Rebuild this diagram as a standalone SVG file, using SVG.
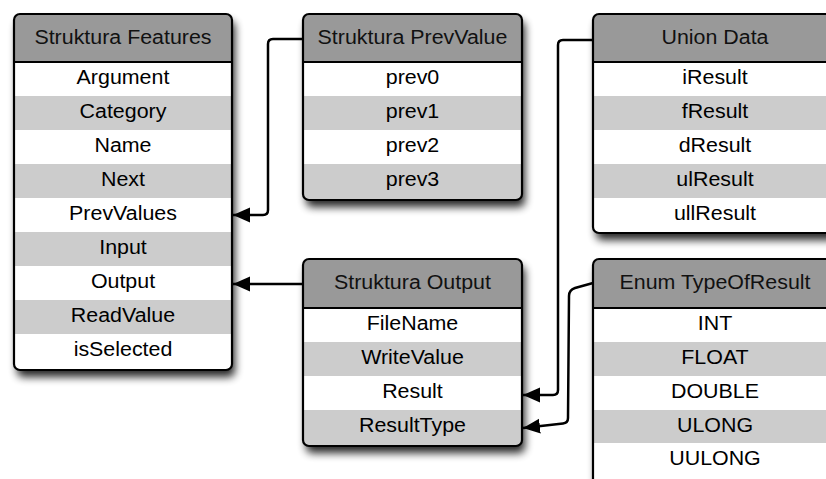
<svg xmlns="http://www.w3.org/2000/svg" width="826" height="479" viewBox="0 0 826 479">
<style>
.box{fill:#fff}
.hdr{fill:#999}
.alt{fill:#ccc}
.brd{fill:none;stroke:#000;stroke-width:2.2}
.sep{stroke:#000;stroke-width:2}
text{font-family:"Liberation Sans",Arial,sans-serif;font-size:20px;text-anchor:middle;fill:#000;transform-box:fill-box;transform-origin:center;transform:scaleX(1.07)}
text.h{fill:#111}
.con{fill:none;stroke:#000;stroke-width:2.5;stroke-linejoin:round}
</style>
<defs>
<filter id="sh" x="-10%" y="-10%" width="130%" height="130%">
<feGaussianBlur in="SourceAlpha" stdDeviation="4"/>
<feOffset dx="3" dy="7" result="b"/>
<feComponentTransfer><feFuncA type="linear" slope="0.85"/></feComponentTransfer>
<feMerge><feMergeNode/><feMergeNode in="SourceGraphic"/></feMerge>
</filter>
<marker id="arr" markerUnits="userSpaceOnUse" markerWidth="20" markerHeight="16" refX="17" refY="7.5" orient="auto">
<path d="M0,0 L17,7.5 L0,15 Z" fill="#000"/>
</marker>
<clipPath id="c1"><rect x="14" y="14" width="218" height="356" rx="6"/></clipPath>
<clipPath id="c2"><rect x="303" y="14" width="219" height="186" rx="6"/></clipPath>
<clipPath id="c3"><rect x="593" y="14" width="244" height="219" rx="6"/></clipPath>
<clipPath id="c4"><rect x="303" y="259" width="219" height="187" rx="6"/></clipPath>
<clipPath id="c5"><rect x="593" y="259" width="244" height="240" rx="6"/></clipPath>
</defs>

<g id="connectors">
<path class="con" d="M303,39 L273,39 Q268,39 268,44 L268,210 Q268,215 263,215 L233,215" marker-end="url(#arr)"/>
<path class="con" d="M303,284 L233,284" marker-end="url(#arr)"/>
<path class="con" d="M593,40 L563,40 Q558,40 558,45 L558,390 Q558,395 553,395 L523,395" marker-end="url(#arr)"/>
<path class="con" d="M593,283 L575,288 Q569,290 569,296 L568,418 Q568,423 563,423.5 L523,428" marker-end="url(#arr)"/>
</g>

<g id="features">
<rect class="box" x="14" y="14" width="218" height="356" rx="6" filter="url(#sh)"/>
<g clip-path="url(#c1)">
<rect class="hdr" x="14" y="14" width="218" height="48"/>
<rect class="alt" x="14" y="96" width="218" height="34"/>
<rect class="alt" x="14" y="164" width="218" height="34"/>
<rect class="alt" x="14" y="232" width="218" height="34"/>
<rect class="alt" x="14" y="300" width="218" height="34"/>
</g>
<line class="sep" x1="14" y1="62" x2="232" y2="62"/>
<rect class="brd" x="14" y="14" width="218" height="356" rx="6"/>
<text class="h" x="123" y="44">Struktura Features</text>
<text x="123" y="84">Argument</text>
<text x="123" y="118">Category</text>
<text x="123" y="152">Name</text>
<text x="123" y="186">Next</text>
<text x="123" y="220">PrevValues</text>
<text x="123" y="254">Input</text>
<text x="123" y="288">Output</text>
<text x="123" y="322">ReadValue</text>
<text x="123" y="356">isSelected</text>
</g>

<g id="prevvalue">
<rect class="box" x="303" y="14" width="219" height="186" rx="6" filter="url(#sh)"/>
<g clip-path="url(#c2)">
<rect class="hdr" x="303" y="14" width="219" height="48"/>
<rect class="alt" x="303" y="96" width="219" height="34"/>
<rect class="alt" x="303" y="164" width="219" height="36"/>
</g>
<line class="sep" x1="303" y1="62" x2="522" y2="62"/>
<rect class="brd" x="303" y="14" width="219" height="186" rx="6"/>
<text class="h" x="412.5" y="44">Struktura PrevValue</text>
<text x="412.5" y="84">prev0</text>
<text x="412.5" y="118">prev1</text>
<text x="412.5" y="152">prev2</text>
<text x="412.5" y="186">prev3</text>
</g>

<g id="uniondata">
<rect class="box" x="593" y="14" width="244" height="219" rx="6" filter="url(#sh)"/>
<g clip-path="url(#c3)">
<rect class="hdr" x="593" y="14" width="244" height="48"/>
<rect class="alt" x="593" y="96" width="244" height="34"/>
<rect class="alt" x="593" y="164" width="244" height="34"/>
</g>
<line class="sep" x1="593" y1="62" x2="837" y2="62"/>
<rect class="brd" x="593" y="14" width="244" height="219" rx="6"/>
<text class="h" x="715" y="44">Union Data</text>
<text x="715" y="84">iResult</text>
<text x="715" y="118">fResult</text>
<text x="715" y="152">dResult</text>
<text x="715" y="186">ulResult</text>
<text x="715" y="220">ullResult</text>
</g>

<g id="output">
<rect class="box" x="303" y="259" width="219" height="187" rx="6" filter="url(#sh)"/>
<g clip-path="url(#c4)">
<rect class="hdr" x="303" y="259" width="219" height="49"/>
<rect class="alt" x="303" y="342" width="219" height="34"/>
<rect class="alt" x="303" y="410" width="219" height="36"/>
</g>
<line class="sep" x1="303" y1="308" x2="522" y2="308"/>
<rect class="brd" x="303" y="259" width="219" height="187" rx="6"/>
<text class="h" x="412.5" y="289">Struktura Output</text>
<text x="412.5" y="330">FileName</text>
<text x="412.5" y="364">WriteValue</text>
<text x="412.5" y="398">Result</text>
<text x="412.5" y="432">ResultType</text>
</g>

<g id="typeofresult">
<rect class="box" x="593" y="259" width="244" height="240" rx="6" filter="url(#sh)"/>
<g clip-path="url(#c5)">
<rect class="hdr" x="593" y="259" width="244" height="49"/>
<rect class="alt" x="593" y="342" width="244" height="34"/>
<rect class="alt" x="593" y="410" width="244" height="33"/>
</g>
<line class="sep" x1="593" y1="308" x2="837" y2="308"/>
<rect class="brd" x="593" y="259" width="244" height="240" rx="6"/>
<text class="h" x="715" y="289">Enum TypeOfResult</text>
<text x="715" y="330">INT</text>
<text x="715" y="364">FLOAT</text>
<text x="715" y="398">DOUBLE</text>
<text x="715" y="432">ULONG</text>
<text x="715" y="465">UULONG</text>
</g>
</svg>
